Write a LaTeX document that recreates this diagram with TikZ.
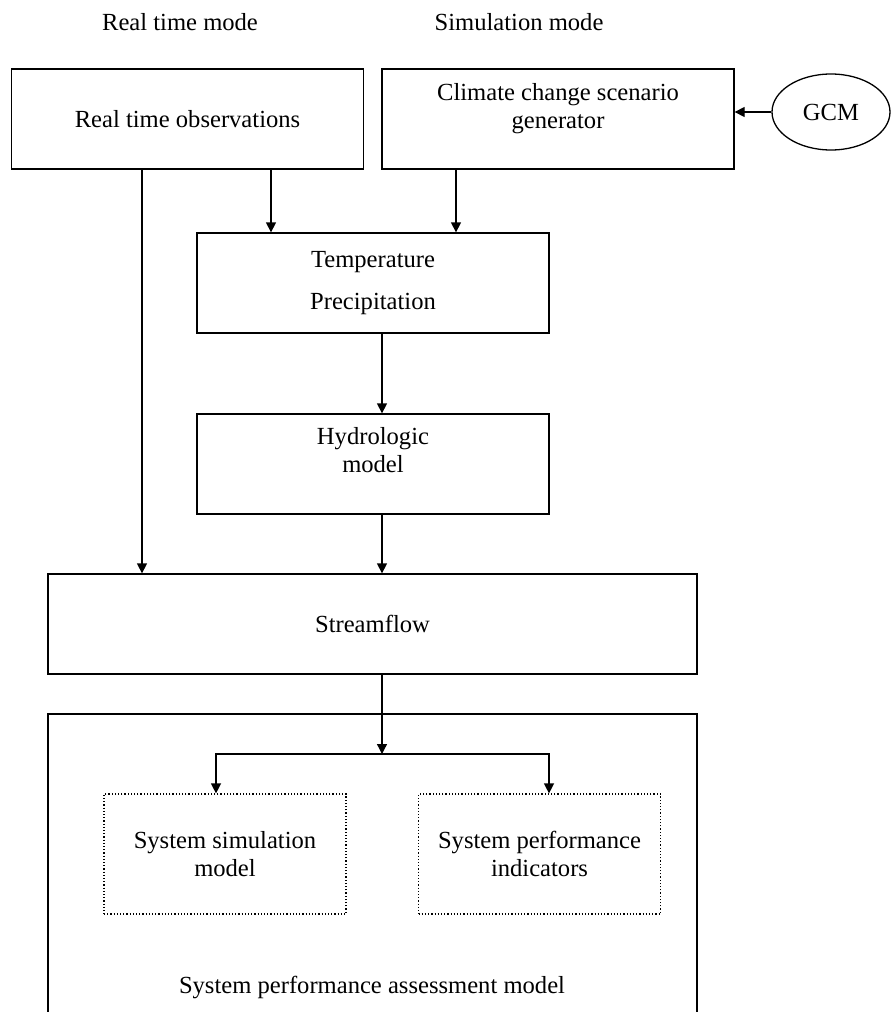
\documentclass[tikz,border=0pt]{standalone}
\usepackage{fontspec}
\setmainfont{Liberation Serif}
\usetikzlibrary{arrows.meta,shapes.geometric}

\begin{document}
\begin{tikzpicture}[x=0.5pt,y=-0.5pt,>={Triangle[length=5pt,width=5pt]},
        line width=0.65pt,
        every node/.style={font=\fontsize{12.3}{14}\selectfont},
        main node/.style={rectangle,draw,align=center,minimum width=176pt,minimum height=50pt,inner sep=0pt},
        sub node/.style={rectangle,draw,densely dotted,line width=0.6pt,align=center,minimum width=121pt,minimum height=60pt,inner sep=0pt}]
        \clip (0,0) rectangle (891,1012);
        % mode headings
        \node (rtmode) at (180,22) {Real time mode};
        \node (simmode) at (519,22) {Simulation mode};
        % input boxes
        \node[main node] (obs) at (187.5,119) {Real time observations};
        \node[main node] (ccsg) at (558,119) {Climate change scenario\\generator\\[-1pt]\mbox{}};
        \node[ellipse,draw,minimum width=59pt,minimum height=38pt,inner sep=0pt] (gcm) at (831,112) {GCM};
        \node[main node] (temp) at (373,283) {Temperature\\[7pt]Precipitation};
        \node[main node] (hydro) at (373,464) {Hydrologic\\model\\[0pt]\mbox{}};
        \node[main node,minimum width=324.5pt] (stream) at (372.5,624) {Streamflow};
        % assessment model
        \node[rectangle,draw,minimum width=324.5pt,minimum height=158pt,inner sep=0pt] (assess) at (372.5,872) {};
        \node (assesslabel) at (372,987) {System performance assessment model};
        \node[sub node] (sim) at (225,854) {System simulation\\model};
        \node[sub node] (perf) at (539.5,854) {System performance\\indicators};
        \coordinate (split) at (382,754);
        % connectors
        \draw[->] (gcm.west) -- (gcm.west -| ccsg.east);
        \draw[->] (obs.south -| 271,0) -- (temp.north -| 271,0);
        \draw[->] (ccsg.south -| 456,0) -- (temp.north -| 456,0);
        \draw[->] (temp.south -| 382,0) -- (hydro.north -| 382,0);
        \draw[->] (hydro.south -| 382,0) -- (stream.north -| 382,0);
        \draw[->] (obs.south -| 142,0) -- (stream.north -| 142,0);
        \draw[->] (stream.south -| split) -- (split);
        \draw[->] (split) -| (sim.north -| 216,0);
        \draw[->] (split) -| (perf.north -| 549,0);
\end{tikzpicture}
\end{document}
